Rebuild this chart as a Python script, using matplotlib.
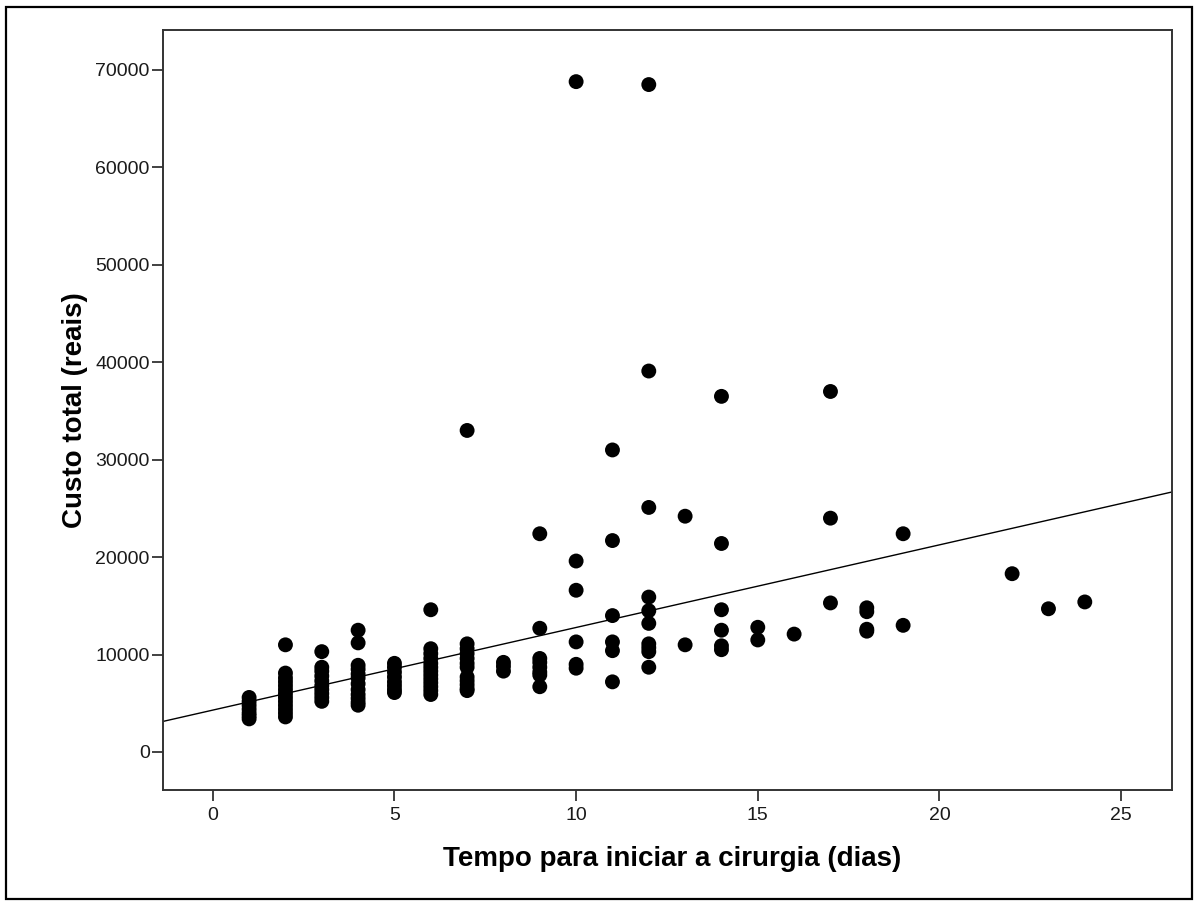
import matplotlib.pyplot as plt
import numpy as np
from matplotlib.patches import Rectangle

plt.rcParams["font.family"] = ["Liberation Sans", "DejaVu Sans"]

# ── data (days to surgery, total cost in reais) ──────────────────────────────
dias = {
    1:  [5600, 5200, 4800, 4400, 4000, 3700, 3400],
    2:  [11000, 8100, 7600, 7200, 6800, 6400, 6000, 5600, 5200, 4800, 4400, 4000, 3600],
    3:  [10300, 8700, 8300, 7800, 7300, 6800, 6400, 6000, 5600, 5200],
    4:  [12500, 11200, 8900, 8500, 8000, 7600, 7000, 6400, 5900, 5500, 5100, 4800],
    5:  [9100, 8700, 8200, 7700, 7200, 6800, 6400, 6100],
    6:  [14600, 10600, 10100, 9600, 9100, 8700, 8300, 7900, 7500, 7100, 6700, 6300, 5900],
    7:  [33000, 11100, 10600, 10100, 9600, 9100, 8700, 7700, 7300, 6900, 6500, 6300],
    8:  [9200, 8800, 8300],
    9:  [22400, 12700, 9600, 9200, 8700, 8200, 7900, 6700],
    10: [68800, 19600, 16600, 11300, 9000, 8600],
    11: [31000, 21700, 14000, 11300, 10400, 7200],
    12: [68500, 39100, 25100, 15900, 14500, 13200, 11100, 10700, 10300, 8700],
    13: [24200, 11000],
    14: [36500, 21400, 14600, 12500, 10900, 10500],
    15: [12800, 11500],
    16: [12100],
    17: [37000, 24000, 15300],
    18: [14800, 14400, 12600, 12400],
    19: [22400, 13000],
    22: [18300],
    23: [14700],
    24: [15400],
}

x = np.concatenate([[d] * len(v) for d, v in dias.items()])
y = np.concatenate(list(dias.values()))

# fitted line
intercepto = 4300
inclinacao = 848

xticks = [0, 5, 10, 15, 20, 25]
yticks = [0, 10000, 20000, 30000, 40000, 50000, 60000, 70000]

fig = plt.figure(figsize=(11.98, 9.06), dpi=100)
ax = fig.add_axes([163 / 1198, 116 / 906, 1009 / 1198, 760 / 906])

ax.scatter(x, y, s=115, color="black", edgecolors="none", zorder=3)

xlim = (-1.37, 26.4)
xx = np.array(xlim)
ax.plot(xx, intercepto + inclinacao * xx, color="black", linewidth=1.0, zorder=2)

ax.set_xlim(*xlim)
ax.set_ylim(-3900, 74100)
ax.set_xticks(xticks)
ax.set_yticks(yticks)
ax.tick_params(direction="out", length=8, width=1.3, color="#333333",
               labelsize=14, labelcolor="#1a1a1a")
ax.tick_params(axis="x", pad=4)
ax.tick_params(axis="y", pad=1.5)
for sp in ax.spines.values():
    sp.set_linewidth(1.4)
    sp.set_color("#333333")

ax.set_xlabel("Tempo para iniciar a cirurgia (dias)", fontsize=20, fontweight="bold")
ax.set_ylabel("Custo total (reais)", fontsize=20, fontweight="bold")
ax.xaxis.set_label_coords(0.505, (790 - 846) / 760)
ax.yaxis.set_label_coords((88 - 163) / 1009, 0.5)

# outer frame around the whole figure
fig.patches.append(Rectangle((6 / 1198, 7 / 906), 1186 / 1198, 892 / 906,
                             transform=fig.transFigure, fill=False,
                             edgecolor="black", linewidth=1.6))

plt.savefig("out.png", dpi=100)
